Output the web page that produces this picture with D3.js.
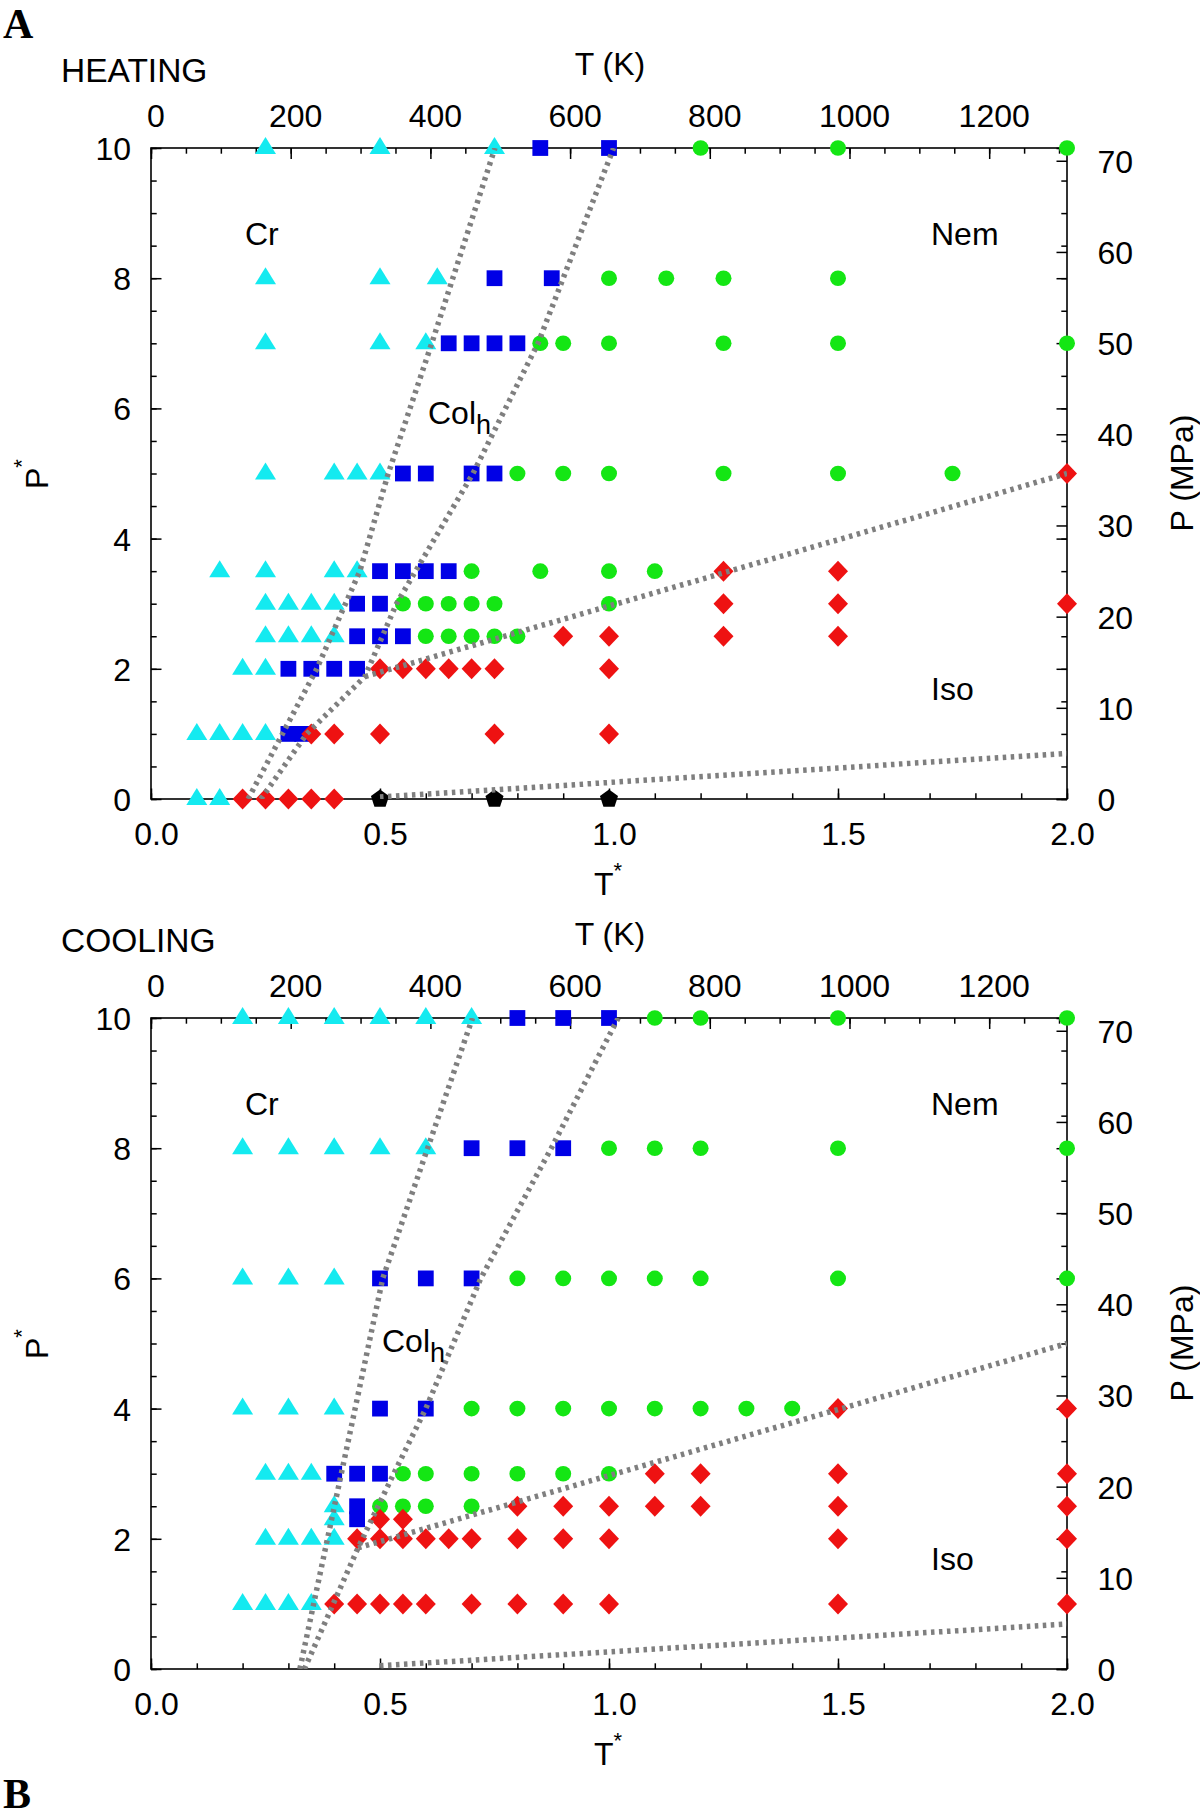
<!DOCTYPE html>
<html><head><meta charset="utf-8">
<script src="https://cdn.jsdelivr.net/npm/d3@7"></script>
<style>
body{margin:0;background:#fff}
svg{display:block}
text{font-family:"Liberation Sans",Arial,Helvetica,sans-serif;fill:#000}
text.letter{font-family:"Liberation Serif","Times New Roman",Times,serif;font-weight:bold}
</style>
</head><body>
<svg id="c" width="1200" height="1818"></svg>
<script>
// ---------------- DATA ----------------
const K_PER_TSTAR = 655.7;   // T(K) per unit T*
const MPA_PER_PSTAR = 7.14;  // P(MPa) per unit P*

const xTickValues = [0, 0.5, 1, 1.5, 2];
const xTickLabels = ["0.0", "0.5", "1.0", "1.5", "2.0"];
const yTickValues = [0, 2, 4, 6, 8, 10];
const yTickLabels = ["0", "2", "4", "6", "8", "10"];
const kTickValues = [0, 200, 400, 600, 800, 1000, 1200];
const kTickLabels = ["0", "200", "400", "600", "800", "1000", "1200"];
const mpaTickValues = [0, 10, 20, 30, 40, 50, 60, 70];
const mpaTickLabels = ["0", "10", "20", "30", "40", "50", "60", "70"];

// rows: P* value and list of T* values
const heatCr = [
  {p:0,   t:[0.10,0.15]},
  {p:1,   t:[0.10,0.15,0.20,0.25]},
  {p:2,   t:[0.20,0.25]},
  {p:2.5, t:[0.25,0.30,0.35,0.40]},
  {p:3,   t:[0.25,0.30,0.35,0.40]},
  {p:3.5, t:[0.15,0.25,0.40,0.45]},
  {p:5,   t:[0.25,0.40,0.45,0.50]},
  {p:7,   t:[0.25,0.50,0.60]},
  {p:8,   t:[0.25,0.50,0.625]},
  {p:10,  t:[0.25,0.50,0.75]}
];
const heatCol = [
  {p:1,   t:[0.30,0.33]},
  {p:2,   t:[0.30,0.35,0.40,0.45]},
  {p:2.5, t:[0.45,0.50,0.55]},
  {p:3,   t:[0.45,0.50]},
  {p:3.5, t:[0.50,0.55,0.60,0.65]},
  {p:5,   t:[0.55,0.60,0.70,0.75]},
  {p:7,   t:[0.65,0.70,0.75,0.80]},
  {p:8,   t:[0.75,0.875]},
  {p:10,  t:[0.85,1.0]}
];
const heatNem = [
  {p:2.5, t:[0.60,0.65,0.70,0.75,0.80]},
  {p:3,   t:[0.55,0.60,0.65,0.70,0.75,1.0]},
  {p:3.5, t:[0.70,0.85,1.0,1.1]},
  {p:5,   t:[0.80,0.90,1.0,1.25,1.5,1.75]},
  {p:7,   t:[0.85,0.90,1.0,1.25,1.5,2.0]},
  {p:8,   t:[1.0,1.125,1.25,1.5]},
  {p:10,  t:[1.2,1.5,2.0]}
];
const heatIso = [
  {p:0,   t:[0.20,0.25,0.30,0.35,0.40]},
  {p:1,   t:[0.35,0.40,0.50,0.75,1.0]},
  {p:2,   t:[0.50,0.55,0.60,0.65,0.70,0.75,1.0]},
  {p:2.5, t:[0.90,1.0,1.25,1.5]},
  {p:3,   t:[1.25,1.5,2.0]},
  {p:3.5, t:[1.25,1.5]},
  {p:5,   t:[2.0]}
];
const heatGas = [
  {p:0, t:[0.5,0.75,1.0]}
];

const coolCr = [
  {p:1,   t:[0.20,0.25,0.30,0.35]},
  {p:2,   t:[0.25,0.30,0.35,0.40]},
  {p:2.3, t:[0.40]},
  {p:2.5, t:[0.40]},
  {p:3,   t:[0.25,0.30,0.35]},
  {p:4,   t:[0.20,0.30,0.40]},
  {p:6,   t:[0.20,0.30,0.40]},
  {p:8,   t:[0.20,0.30,0.40,0.50,0.60]},
  {p:10,  t:[0.20,0.30,0.40,0.50,0.60,0.70]}
];
const coolCol = [
  {p:2.3, t:[0.45]},
  {p:2.5, t:[0.45]},
  {p:3,   t:[0.40,0.45,0.50]},
  {p:4,   t:[0.50,0.60]},
  {p:6,   t:[0.50,0.60,0.70]},
  {p:8,   t:[0.70,0.80,0.90]},
  {p:10,  t:[0.80,0.90,1.0]}
];
const coolNem = [
  {p:2.5, t:[0.50,0.55,0.60,0.70]},
  {p:3,   t:[0.55,0.60,0.70,0.80,0.90,1.0]},
  {p:4,   t:[0.70,0.80,0.90,1.0,1.1,1.2,1.3,1.4]},
  {p:6,   t:[0.80,0.90,1.0,1.1,1.2,1.5,2.0]},
  {p:8,   t:[1.0,1.1,1.2,1.5,2.0]},
  {p:10,  t:[1.1,1.2,1.5,2.0]}
];
const coolIso = [
  {p:1,   t:[0.40,0.45,0.50,0.55,0.60,0.70,0.80,0.90,1.0,1.5,2.0]},
  {p:2,   t:[0.45,0.50,0.55,0.60,0.65,0.70,0.80,0.90,1.0,1.5,2.0]},
  {p:2.3, t:[0.50,0.55]},
  {p:2.5, t:[0.80,0.90,1.0,1.1,1.2,1.5,2.0]},
  {p:3,   t:[1.1,1.2,1.5,2.0]},
  {p:4,   t:[1.5,2.0]}
];
const coolGas = [];

// phase boundaries [T*, P*]
const heatCrColLine  = [[0.212,0],[0.362,2],[0.456,3.5],[0.518,5],[0.613,7],[0.751,10]];
const heatColLine    = [[0.24,0],[0.34,1],[0.467,1.88],[0.536,3],[0.703,5],[0.845,7],[1.01,10]];
const heatNemIsoLine = [[0.467,1.88],[2.0,5.0]];
const heatIsoLowLine = [[0.5,0.03],[2.0,0.70]];

const coolCrColLine  = [[0.325,0],[0.506,6],[0.702,10]];
const coolColLine    = [[0.335,0],[0.452,1.86],[0.53,3],[0.60,4],[0.72,6],[0.874,8],[1.02,10]];
const coolNemIsoLine = [[0.452,1.86],[2.0,5.0]];
const coolIsoLowLine = [[0.5,0.05],[2.0,0.69]];

// ---------------- STYLE ----------------
const L = 151, R = 1067;
const FONT = 32;
const colors = {cr:"#14eaf0", col:"#0000e6", nem:"#14e614", iso:"#ee1212", gas:"#000000"};

function pentagonPath(r){
  const pts = d3.range(5).map(k => {
    const a = -Math.PI/2 + k*2*Math.PI/5;
    return [r*Math.cos(a), r*Math.sin(a)];
  });
  return "M" + pts.map(p => p[0].toFixed(2)+","+p[1].toFixed(2)).join("L") + "Z";
}
const shapes = {
  cr:  "M0,-11L10.5,6L-10.5,6Z",
  col: "M-7.9,-7.9h15.8v15.8h-15.8Z",
  nem: null,
  iso: "M0,-10.5L10,0L0,10.5L-10,0Z",
  gas: pentagonPath(9.5)
};

const panels = [
  {dy:0, title:"HEATING", letter:"A", letterY:38,
   series:{cr:heatCr, col:heatCol, nem:heatNem, iso:heatIso, gas:heatGas},
   lines:[heatCrColLine, heatColLine, heatNemIsoLine, heatIsoLowLine], colX:428},
  {dy:870, title:"COOLING", letter:"B", letterY:1808,
   series:{cr:coolCr, col:coolCol, nem:coolNem, iso:coolIso, gas:coolGas},
   lines:[coolCrColLine, coolColLine, coolNemIsoLine, coolIsoLowLine], colX:382}
];

const svg = d3.select("#c");

function flat(rows){ const out=[]; rows.forEach(r => r.t.forEach(t => out.push([t, r.p]))); return out; }

function styleAxis(g){
  g.select(".domain").remove();
  g.selectAll("line").attr("stroke","#000").attr("stroke-width",1.5);
  g.attr("font-size", FONT);
}

panels.forEach((pn, idx) => {
  const top = 148 + pn.dy, bot = 799 + pn.dy;
  const x  = d3.scaleLinear().domain([0,2]).range([L,R]);
  const xK = d3.scaleLinear().domain([0, 2*K_PER_TSTAR]).range([L,R]);
  const y  = d3.scaleLinear().domain([0,10]).range([bot, top]);
  const yM = d3.scaleLinear().domain([0, 10*MPA_PER_PSTAR]).range([bot, top]);
  const g = svg.append("g");

  const cid = "clip"+idx;
  svg.append("defs").append("clipPath").attr("id",cid)
    .append("rect").attr("x",L).attr("y",top).attr("width",R-L).attr("height",bot-top);

  g.append("rect").attr("x",L).attr("y",top).attr("width",R-L).attr("height",bot-top)
    .attr("fill","none").attr("stroke","#000").attr("stroke-width",1.6);

  // bottom axis
  const bMinor = g.append("g").attr("transform",`translate(0,${bot})`)
    .call(d3.axisBottom(x).tickValues(d3.range(0,21).map(i=>i/10)).tickSize(-5.7).tickSizeOuter(0).tickFormat(""));
  styleAxis(bMinor);
  const bMajor = g.append("g").attr("transform",`translate(0,${bot})`)
    .call(d3.axisBottom(x).tickValues(xTickValues).tickSize(-10.5).tickSizeOuter(0).tickFormat((d,i)=>xTickLabels[i]));
  styleAxis(bMajor);
  bMajor.selectAll("text").attr("y",46).attr("dy",null).attr("x",5);

  // top axis (Kelvin)
  const tMinor = g.append("g").attr("transform",`translate(0,${top})`)
    .call(d3.axisTop(xK).tickValues(d3.range(0,1311,50)).tickSize(-5.7).tickSizeOuter(0).tickFormat(""));
  styleAxis(tMinor);
  const tMajor = g.append("g").attr("transform",`translate(0,${top})`)
    .call(d3.axisTop(xK).tickValues(kTickValues).tickSize(-11).tickSizeOuter(0).tickFormat((d,i)=>kTickLabels[i]));
  styleAxis(tMajor);
  tMajor.selectAll("text").attr("y",-21).attr("dy",null).attr("x",4.5);

  // left axis
  const lMinor = g.append("g").attr("transform",`translate(${L},0)`)
    .call(d3.axisLeft(y).tickValues(d3.range(0,21).map(i=>i/2)).tickSize(-5.7).tickSizeOuter(0).tickFormat(""));
  styleAxis(lMinor);
  const lMajor = g.append("g").attr("transform",`translate(${L},0)`)
    .call(d3.axisLeft(y).tickValues(yTickValues).tickSize(-10.5).tickSizeOuter(0).tickFormat((d,i)=>yTickLabels[i]));
  styleAxis(lMajor);
  lMajor.selectAll("text").attr("x",-20).attr("dy",null).attr("y",11.5);

  // right axis: mirrored P* ticks + MPa axis
  const rMinor = g.append("g").attr("transform",`translate(${R},0)`)
    .call(d3.axisRight(y).tickValues(d3.range(0,21).map(i=>i/2)).tickSize(-5.7).tickSizeOuter(0).tickFormat(""));
  styleAxis(rMinor);
  const rMirror = g.append("g").attr("transform",`translate(${R},0)`)
    .call(d3.axisRight(y).tickValues(yTickValues).tickSize(-10.5).tickSizeOuter(0).tickFormat(""));
  styleAxis(rMirror);
  const rMajor = g.append("g").attr("transform",`translate(${R},0)`)
    .call(d3.axisRight(yM).tickValues(mpaTickValues).tickSize(-10.5).tickSizeOuter(0).tickFormat((d,i)=>mpaTickLabels[i]));
  styleAxis(rMajor);
  rMajor.selectAll("text").attr("x",30.5).attr("dy",null).attr("y",11.5).attr("text-anchor","start");

  // markers
  const mg = g.append("g");
  ["cr","col","nem","iso","gas"].forEach(key => {
    const pts = flat(pn.series[key]);
    if (key === "nem") {
      mg.selectAll(null).data(pts).enter().append("ellipse")
        .attr("cx", d=>x(d[0])).attr("cy", d=>y(d[1]))
        .attr("rx",8).attr("ry",7.8).attr("fill",colors[key]);
    } else {
      mg.selectAll(null).data(pts).enter().append("path")
        .attr("d", shapes[key])
        .attr("transform", d=>`translate(${x(d[0])},${y(d[1])})`)
        .attr("fill", colors[key]);
    }
  });

  // phase boundary lines
  const line = d3.line().x(d=>x(d[0])).y(d=>y(d[1]));
  g.append("g").attr("clip-path",`url(#${cid})`).selectAll("path").data(pn.lines).enter().append("path")
    .attr("d", line).attr("fill","none").attr("stroke","#7f7f7f")
    .attr("stroke-width",5.5).attr("stroke-dasharray","3.5,4.5");

  // titles & labels
  g.append("text").attr("x",61).attr("y",82+pn.dy).attr("font-size",33.5).text(pn.title);
  g.append("text").attr("x",610).attr("y",75+pn.dy).attr("font-size",FONT).attr("text-anchor","middle").text("T (K)");
  const tl = g.append("text").attr("x",594).attr("y",895+pn.dy).attr("font-size",FONT);
  tl.append("tspan").text("T");
  tl.append("tspan").attr("font-size",22).attr("dy",-17).text("*");
  const pl = g.append("text").attr("transform",`translate(48,${489+pn.dy}) rotate(-90)`).attr("font-size",FONT);
  pl.append("tspan").text("P");
  pl.append("tspan").attr("font-size",22).attr("dy",-19).text("*");
  g.append("text").attr("transform",`translate(1193,${473+pn.dy}) rotate(-90)`)
    .attr("font-size",FONT).attr("text-anchor","middle").text("P (MPa)");

  g.append("text").attr("x",245).attr("y",245+pn.dy).attr("font-size",FONT).text("Cr");
  g.append("text").attr("x",931).attr("y",245+pn.dy).attr("font-size",FONT).text("Nem");
  g.append("text").attr("x",931).attr("y",700+pn.dy).attr("font-size",FONT).text("Iso");
  const cl = g.append("text").attr("x",pn.colX).attr("y",(idx===0?424:1352)).attr("font-size",FONT);
  cl.append("tspan").text("Col");
  cl.append("tspan").attr("font-size",27).attr("dy",10).text("h");

  svg.append("text").attr("class","letter").attr("x",3).attr("y",pn.letterY)
    .attr("font-size",42).text(pn.letter);
});
</script>
</body></html>
